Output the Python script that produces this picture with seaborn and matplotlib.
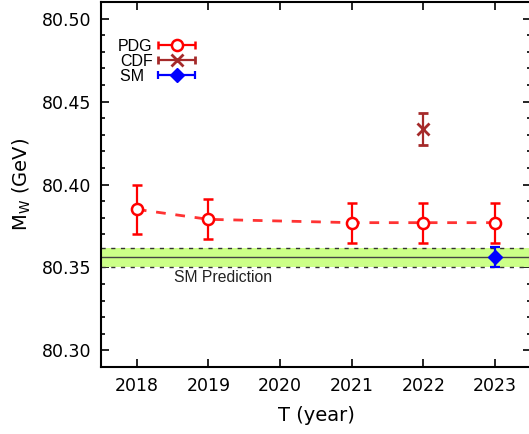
import matplotlib
matplotlib.use("Agg")
import matplotlib.pyplot as plt
import seaborn as sns
import pandas as pd
import numpy as np
from matplotlib.ticker import MultipleLocator
from matplotlib.legend_handler import HandlerErrorbar
from matplotlib.container import ErrorbarContainer

# Data
pdg_years = [2018, 2019, 2021, 2022, 2023]
pdg_mass = [80.385, 80.379, 80.377, 80.377, 80.377]
pdg_err = [0.015, 0.012, 0.012, 0.012, 0.012]
cdf_years = [2022]
cdf_mass = [80.4335]
cdf_err = [0.0094]
sm_years = [2023]
sm_mass = [80.3561]
sm_err = [0.006]
sm_band_center = 80.3561
sm_band_low = 80.350
sm_band_high = 80.362
x_ticks = [2018, 2019, 2020, 2021, 2022, 2023]
y_ticks = [80.30, 80.35, 80.40, 80.45, 80.50]

sns.set_style("ticks")
plt.rcParams['font.family'] = ['DejaVu Sans']

fig = plt.figure(figsize=(5.29, 4.34), dpi=100)
ax = fig.add_axes([101/529, 1-367/434, 430/529, 365/434])

# SM band
ax.axhspan(sm_band_low, sm_band_high, color='#ccff88', zorder=1, lw=0)
ax.axhline(sm_band_low, color='#333333', ls=(0, (3, 4)), lw=1.0, zorder=2)
ax.axhline(sm_band_high, color='#333333', ls=(0, (3, 4)), lw=1.0, zorder=2)
ax.axhline(sm_band_center, color='#444444', lw=1.0, zorder=2)
ax.text(2019.2, 80.3438, "SM Prediction", fontsize=11.3, ha='center', va='center',
        color='#222222', family=['Liberation Sans', 'DejaVu Sans'])

df = pd.DataFrame({"year": pdg_years, "mass": pdg_mass})
sns.lineplot(data=df, x="year", y="mass", ax=ax, color='#ff3333',
             linestyle=(0, (3.5, 3.5)), lw=2, zorder=3, legend=False)

ax.errorbar(pdg_years, pdg_mass, yerr=pdg_err, fmt='o', mfc='white', mec='red',
            color='red', ms=8, mew=1.8, capsize=3.5, elinewidth=1.6, capthick=1.6, zorder=4)
ax.errorbar(cdf_years, cdf_mass, yerr=cdf_err, fmt='x', color='#a52a2a',
            ms=9, mew=2, capsize=3.5, elinewidth=1.6, capthick=1.6, zorder=4)
ax.errorbar(sm_years, sm_mass, yerr=sm_err, fmt='D', color='blue',
            ms=7.5, capsize=3.5, elinewidth=1.6, capthick=1.6, zorder=5)

# legend proxies with horizontal error bars
h1 = ax.errorbar([np.nan], [np.nan], xerr=[1], fmt='o', mfc='white', mec='red', color='red',
                 ms=8, mew=1.8, capsize=3, elinewidth=1.6, capthick=1.6, label='PDG')
h2 = ax.errorbar([np.nan], [np.nan], xerr=[1], fmt='x', color='#a52a2a',
                 ms=9, mew=2, capsize=3, elinewidth=1.6, capthick=1.6, label='CDF')
h3 = ax.errorbar([np.nan], [np.nan], xerr=[1], fmt='D', color='blue',
                 ms=7.5, capsize=3, elinewidth=1.6, capthick=1.6, label='SM')

ax.set_xlim(2017.5, 2023.5)
ax.set_ylim(80.29, 80.51)
ax.set_xticks(x_ticks)
ax.set_yticks(y_ticks)
ax.set_yticklabels([f"{v:.2f}" for v in y_ticks])
ax.yaxis.set_minor_locator(MultipleLocator(0.01))
ax.tick_params(axis='both', which='both', direction='in', top=True, right=True,
               labelsize=12.5, width=1.2, colors='black', labelcolor='black')
ax.tick_params(axis='both', which='major', length=6, pad=7)
ax.tick_params(axis='both', which='minor', length=3)
for s in ax.spines.values():
    s.set_linewidth(1.5)
    s.set_color('black')

ax.set_xlabel("T (year)", fontsize=14, color='black', labelpad=8)
ax.set_ylabel(r"M$_\mathregular{W}$ (GeV)", fontsize=14, color='black', labelpad=6)

leg_fs = 11.5
leg = ax.legend(handles=[h1, h2, h3], labels=["PDG", "CDF", "SM  "],
                loc='upper left', bbox_to_anchor=(0.025, 0.917),
                frameon=False, markerfirst=False, handlelength=2.7,
                prop={'family': ['Liberation Sans', 'DejaVu Sans'], 'size': leg_fs},
                handletextpad=0.15, labelspacing=0.0, borderaxespad=0,
                handler_map={ErrorbarContainer: HandlerErrorbar(xerr_size=1.15)})
for t in leg.get_texts():
    t.set_color('black')

fig.savefig("out.png", dpi=100)
